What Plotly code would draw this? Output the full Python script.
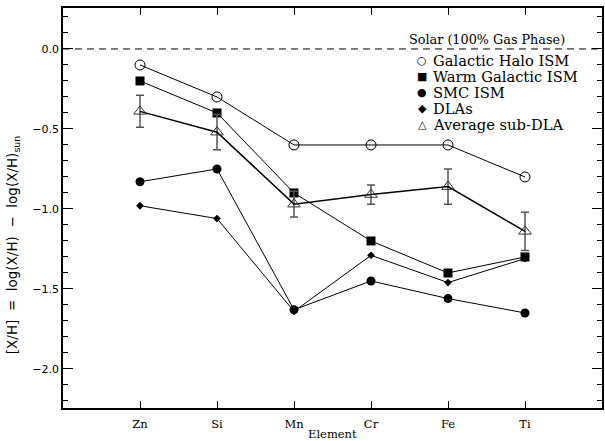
import plotly.graph_objects as go

# ---- data ----
ELEMENTS = ["Zn", "Si", "Mn", "Cr", "Fe", "Ti"]
HALO = [-0.10, -0.30, -0.60, -0.60, -0.60, -0.80]       # Galactic Halo ISM
WARM = [-0.20, -0.40, -0.90, -1.20, -1.40, -1.30]       # Warm Galactic ISM
SMC = [-0.83, -0.75, -1.63, -1.45, -1.56, -1.65]        # SMC ISM
DLA = [-0.98, -1.06, -1.64, -1.29, -1.46, -1.31]        # DLAs
SUBDLA = [-0.39, -0.52, -0.97, -0.91, -0.86, -1.14]     # Average sub-DLA
SUBDLA_ERR = [0.10, 0.11, 0.08, 0.06, 0.11, 0.12]
SOLAR = 0.0

SERIES_NAMES = ["Galactic Halo ISM", "Warm Galactic ISM", "SMC ISM", "DLAs", "Average sub-DLA"]
LEGEND_GLYPHS = ["\u25CB", "\u25A0", "\u25CF", "\u25C6", "\u25B3"]
YTICK_VALS = [0.0, -0.5, -1.0, -1.5, -2.0]
YTICK_TEXT = ["0.0", "\u22120.5", "\u22121.0", "\u22121.5", "\u22122.0"]
SOLAR_LABEL = "Solar (100% Gas Phase)"
X_TITLE = "Element"
Y_TITLE = "[X/H]\u00a0\u00a0=\u00a0\u00a0log(X/H)\u00a0\u00a0\u2212\u00a0\u00a0log(X/H)<sub>sun</sub>"

BLACK = "#000000"
SERIF = "DejaVu Serif"
SANS = "DejaVu Sans"

fig = go.Figure()

fig.add_trace(go.Scatter(
    x=ELEMENTS, y=HALO, name=SERIES_NAMES[0], mode="lines+markers",
    line=dict(color=BLACK, width=1),
    marker=dict(symbol="circle-open", size=10, color=BLACK, line=dict(width=1)),
))
fig.add_trace(go.Scatter(
    x=ELEMENTS, y=WARM, name=SERIES_NAMES[1], mode="lines+markers",
    line=dict(color=BLACK, width=1),
    marker=dict(symbol="square", size=9, color=BLACK),
))
fig.add_trace(go.Scatter(
    x=ELEMENTS, y=SMC, name=SERIES_NAMES[2], mode="lines+markers",
    line=dict(color=BLACK, width=1),
    marker=dict(symbol="circle", size=9, color=BLACK),
))
fig.add_trace(go.Scatter(
    x=ELEMENTS, y=DLA, name=SERIES_NAMES[3], mode="lines+markers",
    line=dict(color=BLACK, width=1),
    marker=dict(symbol="diamond", size=6, color=BLACK),
))
fig.add_trace(go.Scatter(
    x=ELEMENTS, y=SUBDLA, name=SERIES_NAMES[4], mode="lines+markers",
    line=dict(color=BLACK, width=1.5),
    marker=dict(symbol="triangle-up-open", size=11, color="#333333", line=dict(width=1)),
    error_y=dict(type="data", array=SUBDLA_ERR, visible=True,
                 color="#555555", thickness=1.5, width=4),
))

# solar reference (100% gas phase)
fig.add_shape(type="line", xref="paper", x0=0, x1=1, yref="y", y0=SOLAR, y1=SOLAR,
              line=dict(color=BLACK, width=1, dash="7px,5px"), layer="below")

# ---- layout geometry ----
L, R, T, B = 63, 1, 8, 33
W, H = 605, 441
PW, PH = W - L - R, H - T - B


def px_x(px):
    return (px - L) / PW


def px_y(py):
    return (H - B - py) / PH


annotations = []
annotations.append(dict(text=SOLAR_LABEL, xref="paper", yref="paper",
                        x=px_x(489), y=px_y(40), xanchor="center", yanchor="middle",
                        showarrow=False, font=dict(family=SERIF, size=12.8, color=BLACK)))
for i, (g, name) in enumerate(zip(LEGEND_GLYPHS, SERIES_NAMES)):
    yy = px_y(60.5 + 16 * i)
    annotations.append(dict(text=g, xref="paper", yref="paper", x=px_x(423.5), y=yy,
                            xanchor="center", yanchor="middle", showarrow=False,
                            font=dict(family=SANS, size=11, color=BLACK)))
    annotations.append(dict(text=name, xref="paper", yref="paper", x=px_x(432), y=yy,
                            xanchor="left", yanchor="middle", showarrow=False,
                            font=dict(family=SERIF, size=14.7, color=BLACK)))
annotations.append(dict(text=X_TITLE, xref="paper", yref="paper", x=0.5, y=px_y(433.5),
                        xanchor="center", yanchor="middle", showarrow=False,
                        font=dict(family=SERIF, size=11.5, color=BLACK)))
annotations.append(dict(text=Y_TITLE, xref="paper", yref="paper", x=px_x(13), y=px_y(245),
                        xanchor="center", yanchor="middle", textangle=-90, showarrow=False,
                        font=dict(family=SANS, size=13.5, color=BLACK)))

fig.update_layout(
    width=W, height=H,
    margin=dict(l=L, r=R, t=T, b=B, pad=0),
    paper_bgcolor="white", plot_bgcolor="white",
    showlegend=False,
    annotations=annotations,
    xaxis=dict(
        type="category", categoryorder="array", categoryarray=ELEMENTS,
        range=[-1, 6], ticks="inside", ticklen=7, tickwidth=1, tickcolor=BLACK,
        showline=True, linecolor=BLACK, linewidth=1.5, mirror="ticks",
        showgrid=False, zeroline=False,
        tickfont=dict(family=SERIF, size=11.5, color=BLACK),
        ticklabelstandoff=4,
    ),
    yaxis=dict(
        range=[-2.244, 0.256], tickmode="array", tickvals=YTICK_VALS, ticktext=YTICK_TEXT,
        ticks="inside", ticklen=10, tickwidth=1, tickcolor=BLACK,
        minor=dict(dtick=0.1, tick0=0, ticks="inside", ticklen=5, tickwidth=1,
                   tickcolor=BLACK, showgrid=False),
        showline=True, linecolor=BLACK, linewidth=1.5, mirror="ticks",
        showgrid=False, zeroline=False,
        tickfont=dict(family=SANS, size=11, color=BLACK),
    ),
)

fig.write_html(
    "out.html",
    config={"displayModeBar": False},
    post_script="document.body.style.margin='0';document.body.style.overflow='hidden';",
)
